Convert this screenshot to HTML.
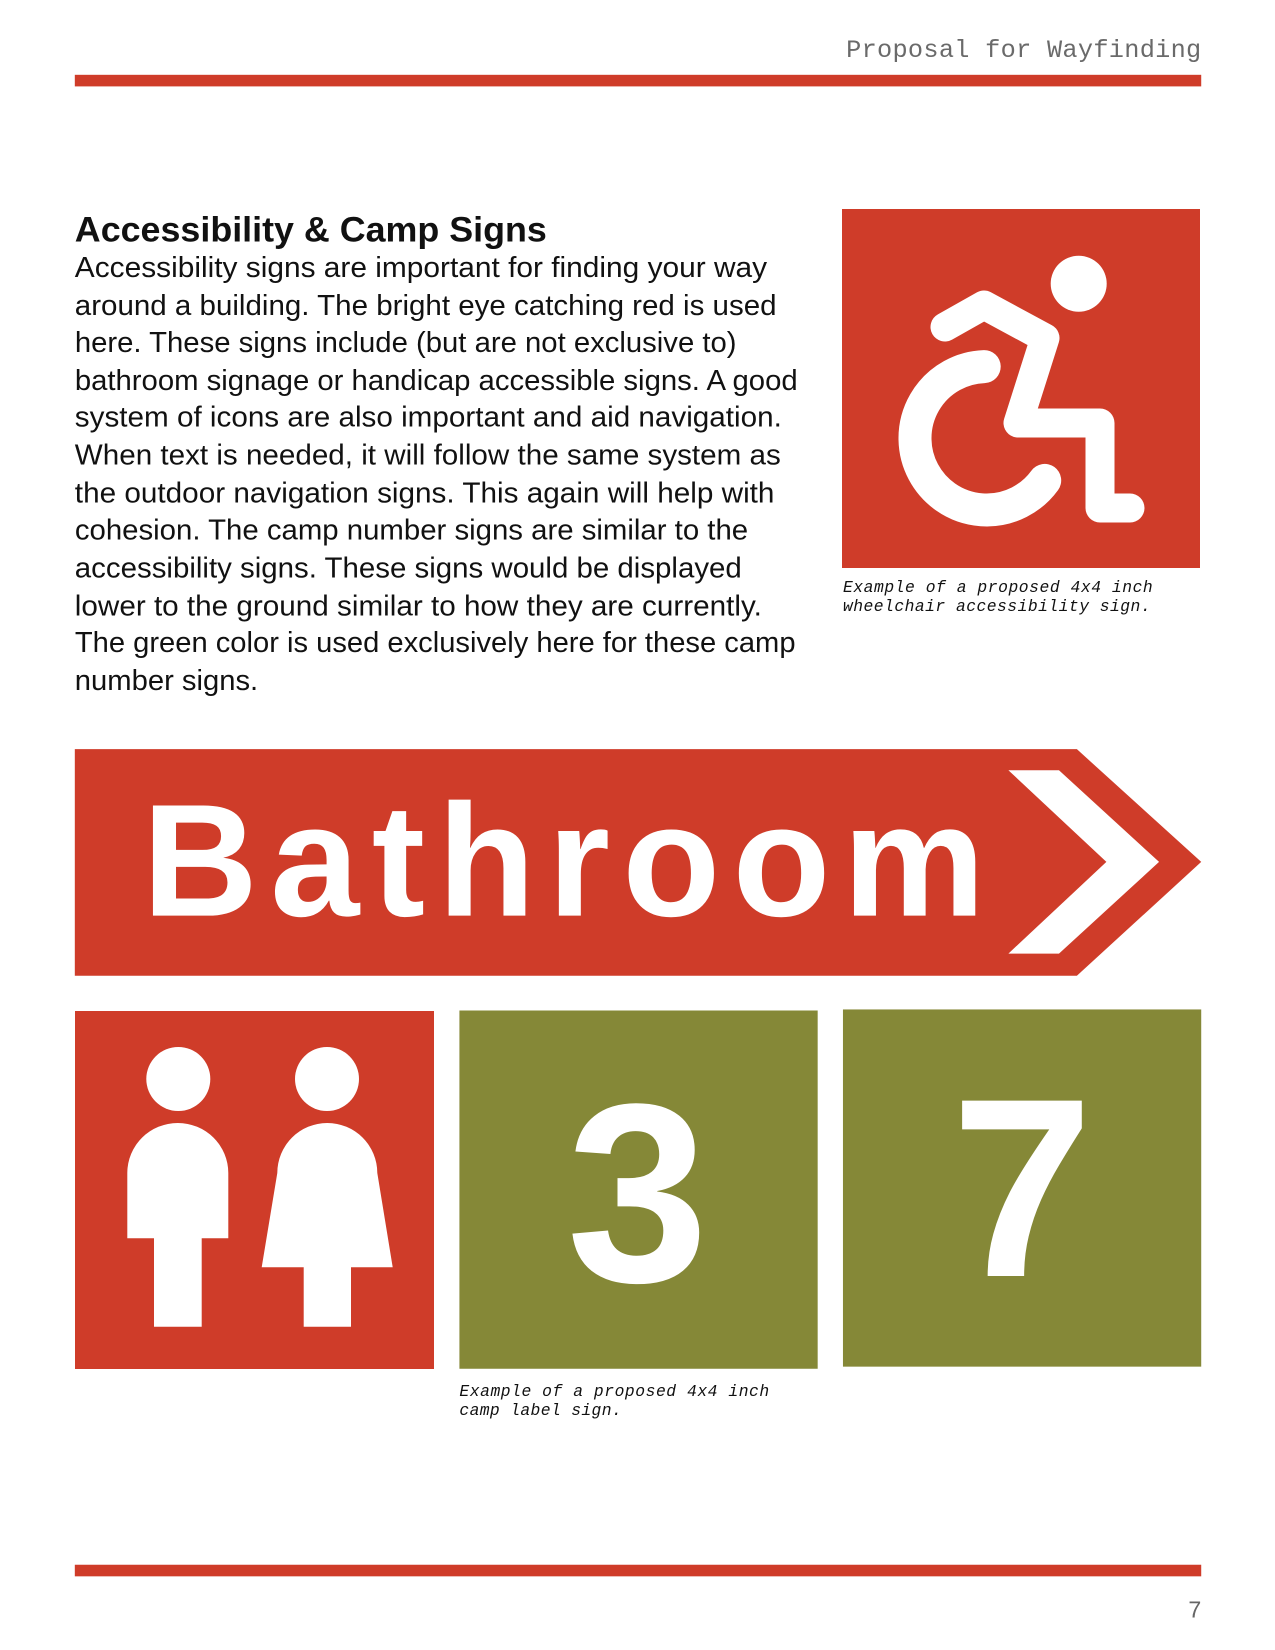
<!DOCTYPE html>
<html><head><meta charset="utf-8"><style>
html,body{margin:0;padding:0;background:#fff}
svg{display:block}
</style></head><body>
<svg width="1275" height="1650" viewBox="0 0 1275 1650" xmlns="http://www.w3.org/2000/svg">
<g transform="scale(1.0537)">
  <text x="803" y="54" font-family="Liberation Mono, monospace" font-size="24" fill="#6a6a6a" textLength="337" lengthAdjust="spacing">Proposal for Wayfinding</text>
  <rect x="71" y="71" width="1069" height="11" fill="#cf3c29"/>
  <text x="71" y="229" font-family="Liberation Sans, sans-serif" font-weight="bold" font-size="33" fill="#111" textLength="448" lengthAdjust="spacingAndGlyphs">Accessibility &amp; Camp Signs</text>
  <g font-family="Liberation Sans, sans-serif" font-size="27" fill="#111">
    <text x="71" y="263" textLength="657" lengthAdjust="spacingAndGlyphs">Accessibility signs are important for finding your way</text>
    <text x="71" y="299" textLength="666" lengthAdjust="spacingAndGlyphs">around a building. The bright eye catching red is used</text>
    <text x="71" y="334" textLength="628" lengthAdjust="spacingAndGlyphs">here. These signs include (but are not exclusive to)</text>
    <text x="71" y="370" textLength="686" lengthAdjust="spacingAndGlyphs">bathroom signage or handicap accessible signs. A good</text>
    <text x="71" y="405" textLength="671" lengthAdjust="spacingAndGlyphs">system of icons are also important and aid navigation.</text>
    <text x="71" y="441" textLength="670" lengthAdjust="spacingAndGlyphs">When text is needed, it will follow the same system as</text>
    <text x="71" y="477" textLength="664" lengthAdjust="spacingAndGlyphs">the outdoor navigation signs. This again will help with</text>
    <text x="71" y="512" textLength="639" lengthAdjust="spacingAndGlyphs">cohesion. The camp number signs are similar to the</text>
    <text x="71" y="548" textLength="633" lengthAdjust="spacingAndGlyphs">accessibility signs. These signs would be displayed</text>
    <text x="71" y="584" textLength="652" lengthAdjust="spacingAndGlyphs">lower to the ground similar to how they are currently.</text>
    <text x="71" y="619" textLength="684" lengthAdjust="spacingAndGlyphs">The green color is used exclusively here for these camp</text>
    <text x="71" y="655" textLength="174" lengthAdjust="spacingAndGlyphs">number signs.</text>
  </g>
  <g font-family="Liberation Mono, monospace" font-style="italic" font-size="15.5" fill="#111">
    <text x="800" y="562" textLength="294" lengthAdjust="spacing">Example of a proposed 4x4 inch</text>
    <text x="800" y="580" textLength="292" lengthAdjust="spacing">wheelchair accessibility sign.</text>
  </g>
  <g>
    <polygon points="71,711 1022,711 1140,818 1022,926 71,926" fill="#cf3c29"/>
    <polygon points="957,731 1005,731 1100,818 1005,905 957,905 1050,818" fill="#fff"/>
    <text x="135" y="869" font-family="Liberation Sans, sans-serif" font-weight="bold" font-size="152" fill="#fff" textLength="800" lengthAdjust="spacing">Bathroom</text>
  </g>
  <rect x="436" y="959" width="340" height="340" fill="#858837"/>
  <text x="605" y="1216" text-anchor="middle" font-family="Liberation Sans, sans-serif" font-weight="bold" font-size="242" fill="#fff">3</text>
  <rect x="800" y="958" width="340" height="339" fill="#858837"/>
  <text x="970" y="1211" text-anchor="middle" font-family="Liberation Sans, sans-serif" font-weight="bold" font-size="242" fill="#fff">7</text>
  <g font-family="Liberation Mono, monospace" font-style="italic" font-size="15.5" fill="#111">
    <text x="436" y="1325" textLength="294" lengthAdjust="spacing">Example of a proposed 4x4 inch</text>
    <text x="436" y="1343" textLength="154" lengthAdjust="spacing">camp label sign.</text>
  </g>
  <rect x="71" y="1485" width="1069" height="11" fill="#cf3c29"/>
  <text x="1140" y="1535" text-anchor="end" font-family="Liberation Sans, sans-serif" font-size="22" fill="#666">7</text>
</g>
<g>
  <rect x="842" y="209" width="358" height="359" fill="#cf3c29"/>
  <circle cx="1078.7" cy="283.7" r="28" fill="#fff"/>
  <polyline points="945,327 984,305 1045,338 1018,423 1100,423 1100,508 1130,508" fill="none" stroke="#fff" stroke-width="29" stroke-linecap="round" stroke-linejoin="round"/>
  <path d="M984.2,366.6 A71.7,71.7 0 1 0 1044.7,480.4" fill="none" stroke="#fff" stroke-width="33" stroke-linecap="round"/>
</g>
<g>
  <rect x="75" y="1011" width="359" height="358" fill="#cf3c29"/>
  <circle cx="178.3" cy="1079" r="32" fill="#fff"/>
  <path d="M127.3,1238.3 L127.3,1173 A50.5,50 0 0 1 228.3,1173 L228.3,1238.3 L201.7,1238.3 L201.7,1326.7 L154,1326.7 L154,1238.3 Z" fill="#fff"/>
  <circle cx="327" cy="1079" r="32" fill="#fff"/>
  <path d="M261.7,1267.3 L277.3,1173 A50,50 0 0 1 377.3,1173 L392.7,1267.3 L351,1267.3 L351,1326.7 L303.7,1326.7 L303.7,1267.3 Z" fill="#fff"/>
</g>
</svg>
</body></html>
